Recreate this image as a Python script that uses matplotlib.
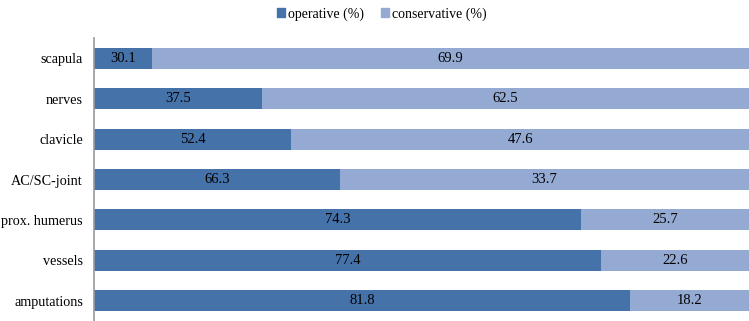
import matplotlib.pyplot as plt
import matplotlib.patches as mpatches

plt.rcParams['font.family'] = ['Liberation Serif', 'DejaVu Serif']

# categories top to bottom
categories = ['scapula', 'nerves', 'clavicle', 'AC/SC-joint',
              'prox. humerus', 'vessels', 'amputations']

# printed labels
operative_lbl = [30.1, 37.5, 52.4, 66.3, 74.3, 77.4, 81.8]
conservative_lbl = [69.9, 62.5, 47.6, 33.7, 25.7, 22.6, 18.2]

# bar lengths as drawn in the source figure (top four do not match their labels)
operative_len = [8.9, 25.7, 30.1, 37.5, 74.3, 77.4, 81.8]

col_op = '#4672AA'
col_cons = '#95AAD3'

fig = plt.figure(figsize=(7.49, 3.21), dpi=100)
ax = fig.add_axes([94 / 749, 0.0, 655 / 749, (321 - 38) / 321])

y = list(range(len(categories)))
cons_len = [100 - v for v in operative_len]
ax.barh(y, operative_len, height=0.52, color=col_op)
ax.barh(y, cons_len, left=operative_len, height=0.52, color=col_cons)

for i in y:
    ax.text(operative_len[i] / 2, i, f'{operative_lbl[i]:.1f}',
            ha='center', va='center', fontsize=10.5, color='black')
    ax.text(operative_len[i] + cons_len[i] / 2, i, f'{conservative_lbl[i]:.1f}',
            ha='center', va='center', fontsize=10.5, color='black')

ax.set_xlim(0, 100)
ax.set_ylim(len(categories) - 0.5, -0.5)
ax.set_yticks(y)
ax.set_yticklabels(categories, fontsize=10.2)
ax.tick_params(axis='y', length=0, pad=8)
ax.set_xticks([])
for s in ['top', 'right', 'bottom']:
    ax.spines[s].set_visible(False)
ax.spines['left'].set_color('#9a9a9a')
ax.spines['left'].set_linewidth(1.2)

handles = [mpatches.Patch(color=col_op, label='operative (%)'),
           mpatches.Patch(color=col_cons, label='conservative (%)')]
fig.legend(handles=handles, loc='center', bbox_to_anchor=(382 / 749, 1 - 14 / 321),
           ncol=2, frameon=False, fontsize=10, handlelength=0.55, handleheight=0.55,
           handletextpad=0.25, columnspacing=1.2)

fig.savefig('out.png', dpi=100)
